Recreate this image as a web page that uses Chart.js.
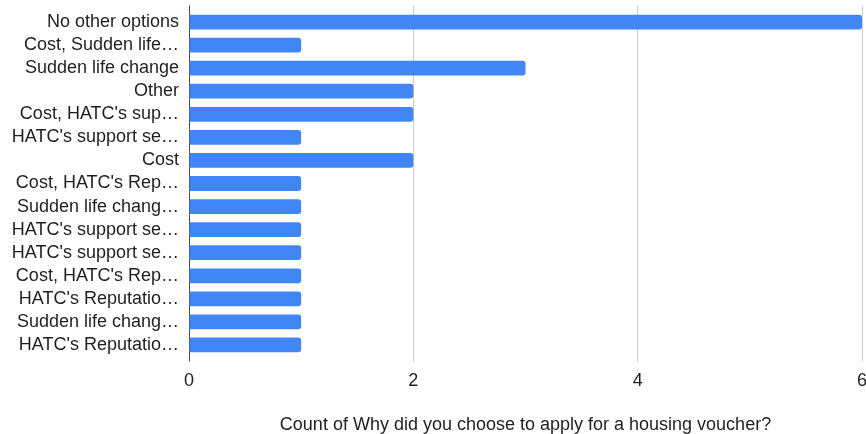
<!DOCTYPE html>
<html><head><meta charset="utf-8">
<script src="https://cdn.jsdelivr.net/npm/chart.js@4"></script>
<style>html,body{margin:0;padding:0;background:#fff;overflow:hidden}#wrap{width:866px;height:434px;position:relative;background:#fff}</style>
</head><body><div id="wrap"><canvas id="c" width="866" height="434"></canvas></div>
<script>
const categories = [
  "No other options",
  "Cost, Sudden life…",
  "Sudden life change",
  "Other",
  "Cost, HATC's sup…",
  "HATC's support se…",
  "Cost",
  "Cost, HATC's Rep…",
  "Sudden life chang…",
  "HATC's support se…",
  "HATC's support se…",
  "Cost, HATC's Rep…",
  "HATC's Reputatio…",
  "Sudden life chang…",
  "HATC's Reputatio…"
];
const counts = [6, 1, 3, 2, 2, 1, 2, 1, 1, 1, 1, 1, 1, 1, 1];
const xTicks = [0, 2, 4, 6];
const axisTitle = "Count of Why did you choose to apply for a housing voucher?";

const FONT = {family: '"Liberation Sans", Arial, Helvetica, sans-serif', size: 18};
const TEXT = '#1f1f1f';
const gridColor = (c) => (c.tick && c.tick.value === 0) ? '#4a4a4a' : '#cccccc';
const setTicks = (s) => { s.ticks = xTicks.map(v => ({value: v})); };

new Chart(document.getElementById('c'), {
  type: 'bar',
  data: {
    labels: categories,
    datasets: [{
      data: counts,
      backgroundColor: '#4285f4',
      borderRadius: 3,
      borderSkipped: 'start',
      categoryPercentage: 0.64,
      barPercentage: 1.0
    }]
  },
  options: {
    indexAxis: 'y',
    responsive: false,
    animation: false,
    devicePixelRatio: 1,
    layout: {padding: {left: 0, right: 4, top: 5.5, bottom: 0}},
    plugins: {legend: {display: false}, tooltip: {enabled: false}},
    scales: {
      x: {
        type: 'linear', position: 'bottom', min: 0, max: 6,
        afterBuildTicks: setTicks,
        ticks: {font: FONT, color: TEXT, padding: 8.5, maxRotation: 0},
        grid: {color: gridColor, tickColor: gridColor, lineWidth: 1, drawTicks: true, tickLength: 5},
        border: {display: false},
        title: {display: true, text: axisTitle, font: FONT, color: TEXT, padding: {top: 0, bottom: -1.5}},
        afterFit(s) { s.paddingLeft = 0; s.paddingRight = 0; s.height = 77.5; }
      },
      x2: {
        type: 'linear', position: 'top', min: 0, max: 6,
        afterBuildTicks: setTicks,
        ticks: {display: false},
        grid: {drawOnChartArea: false, color: gridColor, tickColor: gridColor, drawTicks: true, tickLength: 5},
        border: {display: false},
        afterFit(s) { s.paddingLeft = 0; s.paddingRight = 0; s.height = 5; }
      },
      y: {
        ticks: {font: FONT, color: TEXT, padding: 10, autoSkip: false},
        grid: {display: false, drawTicks: false},
        border: {display: false},
        afterFit(s) { s.width = 189; s.paddingTop = 0; s.paddingBottom = 0; }
      }
    }
  }
});
</script>
</body></html>
